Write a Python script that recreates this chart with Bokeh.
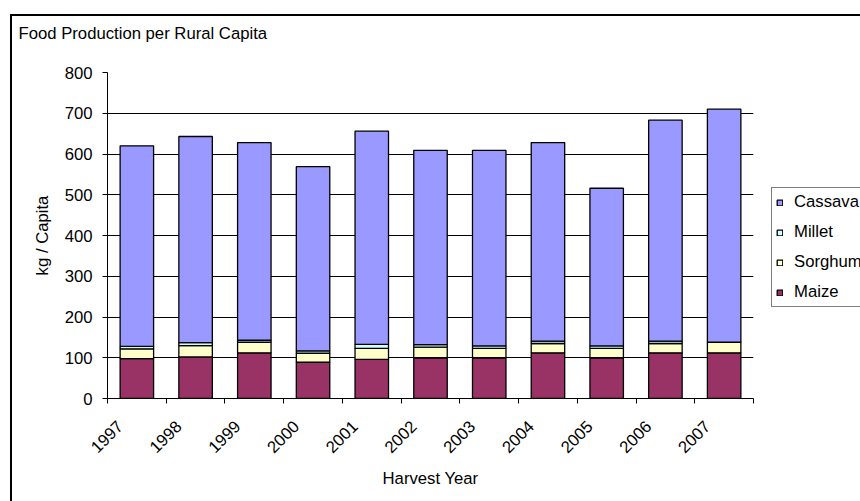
import math

from bokeh.plotting import figure
from bokeh.models import (ColumnDataSource, Range1d, FixedTicker, Legend, LegendItem, Title)
from bokeh.embed import file_html
from bokeh.resources import INLINE

# Harvest years and per-capita production (kg / rural capita) by crop
years = ["1997", "1998", "1999", "2000", "2001", "2002",
         "2003", "2004", "2005", "2006", "2007"]
maize = [98, 102, 112, 89, 96, 100, 100, 112, 100, 112, 112]
sorghum = [24, 28, 26, 22, 27, 26, 23, 23, 23, 23, 26]
millet = [6, 7, 5, 6, 10, 6, 6, 6, 6, 6, 0]
cassava = [492, 506, 485, 452, 523, 477, 480, 487, 387, 542, 572]

crops = ["Maize", "Sorghum", "Millet", "Cassava"]
crop_colors = ["#993366", "#FFFFCC", "#CCFFFF", "#9999FF"]

y_ticks = [0, 100, 200, 300, 400, 500, 600, 700, 800]

FONT = "Liberation Sans"
FS = "16.7px"

# one slot per year: bars sit in the middle, tick marks on the slot edges
centers = [i + 0.5 for i in range(len(years))]
edges = list(range(len(years) + 1))
# slanted labels sit down-left of the slot middle
label_pos = [c - 0.29 for c in centers]

source = ColumnDataSource(dict(x=centers, Maize=maize, Sorghum=sorghum,
                               Millet=millet, Cassava=cassava))

p = figure(frame_width=646, frame_height=326, title=None,
           output_backend="svg", toolbar_location=None,
           x_range=Range1d(0, len(years)), y_range=Range1d(0, 800),
           min_border_left=95, min_border_right=107,
           min_border_top=56, min_border_bottom=103,
           margin=(14, 0, 0, 10),
           styles={"border-left": "2px solid black",
                   "border-top": "2px solid black"})
p.outline_line_color = None
p.background_fill_color = "white"
p.border_fill_color = "white"

bars = p.vbar_stack(crops, x="x", width=0.57, source=source,
                    fill_color=crop_colors, line_color="black", line_width=1.3)

# blank band between the plot area and the chart title
p.add_layout(Title(text=" ", standoff=1, text_font=FONT, text_font_size=FS), "above")
# chart title, flush with the top left of the chart area
p.add_layout(Title(text="Food Production per Rural Capita", align="left",
                   vertical_align="top", offset=-89, standoff=12,
                   text_font=FONT, text_font_size=FS, text_font_style="normal",
                   text_color="black"), "above")

# y axis
yax = p.yaxis[0]
yax.ticker = FixedTicker(ticks=y_ticks)
yax.axis_label = "kg / Capita"
yax.axis_label_text_font = FONT
yax.axis_label_text_font_size = FS
yax.axis_label_text_font_style = "normal"
yax.axis_label_text_color = "black"
yax.axis_label_standoff = 10
yax.major_label_text_font = FONT
yax.major_label_text_font_size = FS
yax.major_label_text_color = "black"
yax.major_label_standoff = 10
yax.major_tick_out = 5
yax.major_tick_in = 0
yax.minor_tick_line_color = None
yax.axis_line_color = "black"
yax.major_tick_line_color = "black"

# x axis: labels under each bar, ticks between bars
xax = p.xaxis[0]
xax.ticker = FixedTicker(ticks=label_pos, minor_ticks=edges)
xax.major_label_overrides = {c: y for c, y in zip(label_pos, years)}
xax.major_label_orientation = math.pi / 4
xax.major_label_text_font = FONT
xax.major_label_text_font_size = FS
xax.major_label_text_color = "black"
xax.major_label_standoff = 19
xax.major_tick_line_color = None
xax.minor_tick_line_color = "black"
xax.minor_tick_out = 5
xax.minor_tick_in = 0
xax.axis_line_color = "black"
xax.axis_label = "Harvest Year"
xax.axis_label_text_font = FONT
xax.axis_label_text_font_size = FS
xax.axis_label_text_font_style = "normal"
xax.axis_label_text_color = "black"
xax.axis_label_standoff = 8

p.ygrid.grid_line_color = "black"
p.ygrid.grid_line_width = 1
p.xgrid.visible = False

legend = Legend(items=[LegendItem(label=c, renderers=[r])
                       for c, r in reversed(list(zip(crops, bars)))],
                location=(18, 91), orientation="vertical",
                label_text_font=FONT, label_text_font_size=FS,
                label_text_color="black",
                glyph_width=7, glyph_height=7, label_height=20,
                spacing=10, padding=4, margin=0, label_standoff=11,
                border_line_color="black", border_line_width=1,
                background_fill_color="white", background_fill_alpha=1)
p.add_layout(legend, "right")

open("out.html", "w").write(file_html(p, INLINE))
